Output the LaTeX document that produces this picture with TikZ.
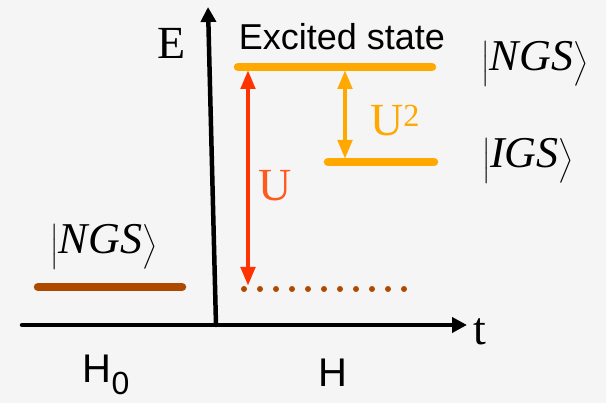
\documentclass[tikz,border=0pt]{standalone}
\usepackage{amsmath}
\usepackage{fontspec}
\setmainfont{Liberation Serif}
\setsansfont{Liberation Sans}
\usetikzlibrary{arrows.meta, positioning}
\definecolor{bggray}{HTML}{F5F5F5}
\definecolor{cred}{HTML}{FF3300}
\definecolor{corange}{HTML}{FFA800}
\definecolor{cbrown}{HTML}{AD4A00}
\definecolor{ulabel}{HTML}{FF5A1E}
\newcommand{\ketlabel}[1]{$\Bigl|$\textit{#1}$\Bigr\rangle$}

\begin{document}
\begin{tikzpicture}[x=1pt, y=-1pt,
    axis/.style={line width=4.5pt, line cap=round, -{Triangle[length=15pt,width=15pt]}},
    level/.style={line width=8.5pt, line cap=round},
    trans/.style={line width=4.5pt, {Triangle[length=19pt,width=14pt]}-{Triangle[length=19pt,width=14pt]}},
    serif/.style={font=\fontsize{46}{46}\selectfont},
    ketfont/.style={font=\fontsize{44}{44}\selectfont},
    sans/.style={font=\sffamily\fontsize{36}{36}\selectfont}
]
\fill[bggray] (0,0) rectangle (606,403);
\useasboundingbox (0,0) rectangle (606,403);

%% Axes
\coordinate (o) at (216,325);
\coordinate (etop) at (208,7);
\coordinate (tl) at (22,325);
\coordinate (tr) at (467,325);
\draw[axis] (o) -- (etop);
\draw[axis] (tl) -- (tr);
\node[serif] (elab) at (172,43) {E};
\node[serif] (tlab) at (480,332) {t};

%% Levels
\coordinate (exl) at (238,67);
\coordinate (exr) at (432,67);
\coordinate (igl) at (328,162);
\coordinate (igr) at (434,162);
\coordinate (ngl) at (38,287);
\coordinate (ngr) at (182,287);
\coordinate (dotl) at (244,289);
\coordinate (dotr) at (420,289);
\draw[level, corange] (exl) -- (exr);
\draw[level, corange] (igl) -- (igr);
\draw[level, cbrown] (ngl) -- (ngr);
\draw[cbrown, line width=6pt, line cap=round, dash pattern=on 0pt off 16pt] (dotl) -- (dotr);

%% Transitions
\coordinate (ra) at (248,70);
\coordinate (rb) at (248,286);
\coordinate (oa) at (345,70);
\coordinate (ob) at (345,159);
\draw[trans, cred] (ra) -- (rb);
\draw[trans, corange] (oa) -- (ob);

%% Labels
\node[sans] (exc) at (342,37) {Excited state};
\node[serif, text=ulabel] (ulab) at (275,186) {U};
\node[serif, text=corange] (u2lab) at (395,121) {U\textsuperscript{2}};
\node[ketfont] (ngsr) at (535,64) {\ketlabel{NGS}};
\node[ketfont] (igsr) at (528,161) {\ketlabel{IGS}};
\node[ketfont] (ngsl) at (104,247) {\ketlabel{NGS}};
\node[sans, font=\sffamily\fontsize{40}{40}\selectfont] (h0) at (106,375) {H\raisebox{-0.3em}{\fontsize{32}{32}\selectfont 0}};
\node[sans, font=\sffamily\fontsize{40}{40}\selectfont] (h) at (333,373) {H};
\end{tikzpicture}
\end{document}
